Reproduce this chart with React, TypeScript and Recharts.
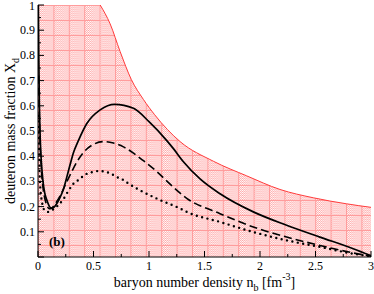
import { Area, ComposedChart, Line, ReferenceArea, XAxis, YAxis } from 'recharts';

const SERIF = 'Liberation Serif, DejaVu Serif, Noto Serif, Times, serif';

// solid curve
const solidN = [0.003, 0.007, 0.012, 0.02, 0.03, 0.045, 0.06, 0.08, 0.1, 0.12, 0.14, 0.17, 0.2, 0.23, 0.26, 0.29, 0.32, 0.36, 0.44, 0.56, 0.69, 0.86, 1.0, 1.16, 1.22, 1.31, 1.46, 1.64, 1.94, 2.24, 2.54, 2.84, 3.0];
const solidX = [1.0, 0.8, 0.62, 0.47, 0.38, 0.3, 0.255, 0.225, 0.203, 0.194, 0.196, 0.212, 0.238, 0.27, 0.318, 0.368, 0.415, 0.458, 0.53, 0.584, 0.606, 0.59, 0.537, 0.462, 0.43, 0.378, 0.31, 0.251, 0.179, 0.126, 0.079, 0.033, 0.005];

// dashed curve
const dashedN = [0.006, 0.012, 0.02, 0.03, 0.045, 0.06, 0.08, 0.1, 0.12, 0.15, 0.2, 0.25, 0.3, 0.35, 0.42, 0.5, 0.59, 0.68, 0.77, 0.86, 0.95, 1.07, 1.2, 1.34, 1.64, 1.94, 2.24, 2.54, 2.84, 3.0];
const dashedX = [0.72, 0.56, 0.44, 0.35, 0.275, 0.235, 0.205, 0.192, 0.193, 0.208, 0.243, 0.29, 0.335, 0.377, 0.42, 0.447, 0.458, 0.452, 0.437, 0.412, 0.382, 0.339, 0.285, 0.233, 0.172, 0.119, 0.079, 0.046, 0.016, 0.003];

// dotted curve
const dottedN = [0.006, 0.012, 0.018, 0.03, 0.042, 0.063, 0.09, 0.114, 0.15, 0.183, 0.228, 0.273, 0.318, 0.372, 0.417, 0.483, 0.543, 0.603, 0.663, 0.708, 0.768, 0.813, 0.918, 1.1, 1.278, 1.341, 1.641, 1.941, 2.241, 2.541, 2.841, 3.0];
const dottedX = [0.56, 0.38, 0.3, 0.235, 0.205, 0.183, 0.179, 0.183, 0.193, 0.206, 0.229, 0.262, 0.29, 0.308, 0.325, 0.336, 0.341, 0.339, 0.329, 0.318, 0.306, 0.292, 0.265, 0.226, 0.193, 0.179, 0.139, 0.099, 0.066, 0.04, 0.013, 0.003];

// upper edge of the shaded region (flat at 1 for n < 0.56)
const edgeN = [0.56, 0.65, 0.74, 0.84, 0.95, 1.05, 1.28, 1.58, 1.88, 2.18, 2.48, 2.78, 3.0];
const edgeX = [1.0, 0.925, 0.815, 0.705, 0.625, 0.565, 0.458, 0.38, 0.322, 0.268, 0.235, 0.211, 0.197];
const edgeStart = 0.56;

const xTicks = [0, 0.25, 0.5, 0.75, 1, 1.25, 1.5, 1.75, 2, 2.25, 2.5, 2.75, 3];
const yTicks = [0, 0.05, 0.1, 0.15, 0.2, 0.25, 0.3, 0.35, 0.4, 0.45, 0.5, 0.55, 0.6, 0.65, 0.7, 0.75, 0.8, 0.85, 0.9, 0.95, 1];

const pts = (ns: number[], xs: number[]) => ns.map((n, i) => ({ n, x: xs[i] }));
const solid = pts(solidN, solidX);
const dashed = pts(dashedN, dashedX);
const dotted = pts(dottedN, dottedX);
const edge = pts(edgeN, edgeX);

const onStep = (v: number, step: number) => Math.abs(v / step - Math.round(v / step)) < 1e-6;

function BottomTick({ x, y, payload }: any) {
  const major = onStep(payload.value, 0.5);
  return (
    <g>
      <line x1={x} x2={x} y1={y} y2={y - (major ? 6 : 3)} stroke="#000" />
      {major && (
        <text x={x} y={y + 13} textAnchor="middle" style={{ fontSize: 12, fontFamily: SERIF }} fill="#000">
          {payload.value}
        </text>
      )}
    </g>
  );
}

function TopTick({ x, y, payload }: any) {
  const major = onStep(payload.value, 0.5);
  return <line x1={x} x2={x} y1={y} y2={y + (major ? 6 : 3)} stroke="#000" />;
}

function LeftTick({ x, y, payload }: any) {
  const major = onStep(payload.value, 0.1);
  return (
    <g>
      <line x1={x} x2={x + (major ? 6 : 3)} y1={y} y2={y} stroke="#000" />
      {major && payload.value > 0 && (
        <text x={x - 3} y={y + (payload.value === 1 ? 5 : 4)} textAnchor="end" style={{ fontSize: 12, fontFamily: SERIF }} fill="#000">
          {payload.value}
        </text>
      )}
    </g>
  );
}

function RightTick({ x, y, payload }: any) {
  const major = onStep(payload.value, 0.1);
  return <line x1={x} x2={x - (major ? 6 : 3)} y1={y} y2={y} stroke="#000" />;
}

function XTitle({ viewBox }: any) {
  const cx = viewBox.x + viewBox.width / 2;
  return (
    <text x={cx} y={viewBox.y + 30} textAnchor="middle" style={{ fontSize: 14, fontFamily: SERIF }} fill="#000">
      baryon number density n
      <tspan style={{ fontSize: 10 }} dy={4}>b</tspan>
      <tspan dy={-4}> [fm</tspan>
      <tspan style={{ fontSize: 10 }} dy={-7}>-3</tspan>
      <tspan dy={7}>]</tspan>
    </text>
  );
}

function YTitle({ viewBox }: any) {
  const cx = viewBox.x + 15;
  const cy = viewBox.y + viewBox.height / 2;
  return (
    <text
      x={cx}
      y={cy}
      transform={`rotate(-90 ${cx} ${cy})`}
      textAnchor="middle"
      style={{ fontSize: 14, fontFamily: SERIF }}
      fill="#000"
    >
      deuteron mass fraction X
      <tspan style={{ fontSize: 10 }} dy={4}>d</tspan>
    </text>
  );
}

export default function App() {
  return (
    <div style={{ width: 374, height: 294, background: '#fff', fontFamily: SERIF }}>
      <style>{'body{margin:0}'}</style>
      <ComposedChart width={374} height={294} margin={{ top: 5, right: 3, bottom: 0, left: 0 }} style={{ fontFamily: SERIF }}>
        <defs>
          <pattern id="chk" width={2} height={2} patternUnits="userSpaceOnUse">
            <rect width={2} height={2} fill="#fff" />
            <rect width={1} height={1} fill="#ffa8a8" />
            <rect x={1} y={1} width={1} height={1} fill="#ffa8a8" />
          </pattern>
          <pattern id="hatch" x={38} y={5} width={15.4} height={15} patternUnits="userSpaceOnUse">
            <rect width={15.4} height={15} fill="url(#chk)" />
            <path d="M0 0.5H15.4M0.5 0V15" stroke="#ff9c9c" strokeWidth={1} />
          </pattern>
        </defs>
        <XAxis
          dataKey="n"
          type="number"
          domain={[0, 3]}
          ticks={xTicks}
          interval={0}
          allowDataOverflow
          height={37}
          tickSize={0}
          tickMargin={0}
          tickLine={false}
          tick={(p: any) => <BottomTick {...p} />}
          axisLine={{ stroke: '#000' }}
          label={{ content: (p: any) => <XTitle {...p} /> }}
        />
        <XAxis
          xAxisId="top"
          orientation="top"
          dataKey="n"
          type="number"
          domain={[0, 3]}
          ticks={xTicks}
          interval={0}
          height={0}
          tickSize={0}
          tickMargin={0}
          tickLine={false}
          tick={(p: any) => <TopTick {...p} />}
          axisLine={{ stroke: '#000' }}
        />
        <YAxis
          type="number"
          domain={[0, 1]}
          ticks={yTicks}
          interval={0}
          allowDataOverflow
          width={38}
          tickSize={0}
          tickMargin={0}
          tickLine={false}
          tick={(p: any) => <LeftTick {...p} />}
          axisLine={{ stroke: '#000' }}
          label={{ content: (p: any) => <YTitle {...p} /> }}
        />
        <YAxis
          yAxisId="right"
          orientation="right"
          type="number"
          domain={[0, 1]}
          ticks={yTicks}
          interval={0}
          width={0}
          tickSize={0}
          tickMargin={0}
          tickLine={false}
          tick={(p: any) => <RightTick {...p} />}
          axisLine={{ stroke: '#000' }}
        />
        <ReferenceArea
          x1={0}
          x2={edgeStart}
          y1={0}
          y2={1}
          fill="url(#hatch)"
          fillOpacity={1}
          stroke="none"
          label={{ value: '(b)', position: 'insideBottomLeft', offset: 11, style: { fontSize: 13, fontWeight: 'bold', fontFamily: SERIF }, fill: '#000' }}
        />
        <Area
          data={edge}
          dataKey="x"
          type="monotone"
          fill="url(#hatch)"
          fillOpacity={1}
          stroke="#ff3b3b"
          strokeWidth={1}
          isAnimationActive={false}
          dot={false}
          activeDot={false}
        />
        <Line data={dotted} dataKey="x" type="monotone" stroke="#000" strokeWidth={2.4} strokeDasharray="0 5.5" strokeLinecap="round" dot={false} activeDot={false} isAnimationActive={false} />
        <Line data={dashed} dataKey="x" type="monotone" stroke="#000" strokeWidth={1.6} strokeDasharray="8 4" dot={false} activeDot={false} isAnimationActive={false} />
        <Line data={solid} dataKey="x" type="monotone" stroke="#000" strokeWidth={1.7} dot={false} activeDot={false} isAnimationActive={false} />
      </ComposedChart>
    </div>
  );
}
